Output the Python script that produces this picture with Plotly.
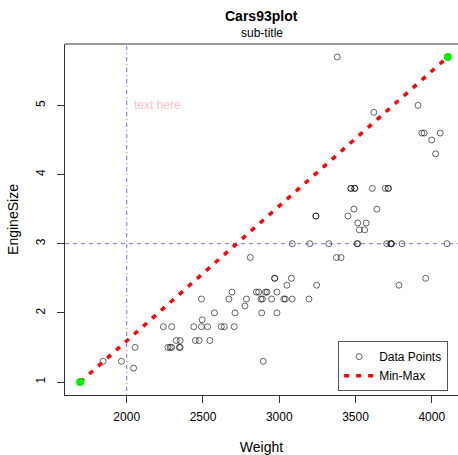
import plotly.graph_objects as go

weight = [2705, 3560, 3375, 3405, 3640, 2880, 3470, 4105, 3495, 3620, 3935, 2490, 2785, 3240,
          3195, 3715, 4025, 3910, 3380, 3515, 3085, 3570, 2270, 2670, 2970, 3705, 3080, 3805,
          2295, 3490, 1845, 2530, 2690, 2850, 2710, 3735, 3325, 3950, 1695, 2475, 2865, 2350,
          3040, 2345, 2620, 2285, 2885, 4000, 3510, 3515, 3695, 4055, 2325, 2440, 2970, 3735,
          2895, 2920, 3525, 2450, 3610, 2295, 3730, 2545, 3050, 4100, 3200, 2910, 2890, 3715,
          3470, 2640, 2350, 2575, 3240, 3450, 3495, 2775, 2495, 2045, 2490, 3085, 1965, 2055,
          2950, 3030, 3785, 2240, 3960, 2985, 2810, 2985, 3245]
engine = [1.8, 3.2, 2.8, 2.8, 3.5, 2.2, 3.8, 5.7, 3.8, 4.9, 4.6, 2.2, 2.2, 3.4,
          2.2, 3.8, 4.3, 5.0, 5.7, 3.3, 3.0, 3.3, 1.5, 2.2, 2.5, 3.0, 2.5, 3.0,
          1.8, 3.5, 1.3, 1.8, 2.3, 2.3, 2.0, 3.0, 3.0, 4.6, 1.0, 1.6, 2.3, 1.5,
          2.2, 1.5, 1.8, 1.5, 2.0, 4.5, 3.0, 3.0, 3.8, 4.6, 1.6, 1.8, 2.5, 3.0,
          1.3, 2.3, 3.2, 1.6, 3.8, 1.5, 3.0, 1.6, 2.4, 3.0, 3.0, 2.3, 2.2, 3.8,
          3.8, 1.8, 1.6, 2.0, 3.4, 3.4, 3.8, 2.1, 1.9, 1.2, 1.8, 2.2, 1.3, 1.5,
          2.2, 2.2, 2.4, 1.8, 2.5, 2.0, 2.8, 2.3, 2.4]

minmax_x = [1695, 4105]
minmax_y = [1.0, 5.7]
vline_x = 2000
hline_y = 3
x_ticks = [2000, 2500, 3000, 3500, 4000]
y_ticks = [1, 2, 3, 4, 5]

xr = [1595.4, 4172]
yr = [0.812, 5.888]

fig = go.Figure()
fig.add_trace(go.Scatter(x=weight, y=engine, mode="markers", name="Data Points",
                         marker=dict(symbol="circle-open", size=6, color="rgba(0,0,0,0.6)",
                                     line=dict(width=1, color="rgba(0,0,0,0.6)"))))
fig.add_trace(go.Scatter(x=minmax_x, y=minmax_y, mode="lines", name="Min-Max",
                         line=dict(color="red", width=3.5, dash="5px,7px")))
fig.add_trace(go.Scatter(x=minmax_x, y=minmax_y, mode="markers", showlegend=False,
                         marker=dict(symbol="circle", size=8, color="#00ee00",
                                     line=dict(width=0))))

fig.add_shape(type="line", x0=vline_x, x1=vline_x, y0=0, y1=1, xref="x", yref="paper",
              line=dict(color="rgba(60,60,255,0.75)", width=1, dash="1px,3px,4px,3px"))
fig.add_shape(type="line", x0=0, x1=1, y0=hline_y, y1=hline_y, xref="paper", yref="y",
              line=dict(color="rgba(60,60,255,0.75)", width=1, dash="4px,4px"))
# top frame line
fig.add_shape(type="line", x0=0, x1=1, y0=1, y1=1, xref="paper", yref="paper",
              line=dict(color="#9a9a9a", width=2))

fig.add_annotation(x=2200, y=5.0, text="text here", showarrow=False,
                   font=dict(color="pink", size=12, family="Liberation Sans"))
fig.add_annotation(x=0.5, y=1, xref="paper", yref="paper", yshift=38, text="<b>Cars93plot</b>",
                   showarrow=False, font=dict(size=14, family="Liberation Sans", color="black"))
fig.add_annotation(x=0.5, y=1, xref="paper", yref="paper", yshift=20, text="sub-title",
                   showarrow=False, font=dict(size=12, family="Liberation Sans", color="black"))

fig.update_layout(
    width=458, height=455,
    margin=dict(l=65, r=0, t=44, b=58),
    plot_bgcolor="white", paper_bgcolor="white",
    font=dict(family="Liberation Sans", size=12, color="black"),
    showlegend=True,
    legend=dict(x=0.975, xanchor="right", y=0.011, yanchor="bottom",
                bordercolor="#555", borderwidth=1, bgcolor="white",
                font=dict(size=12), tracegroupgap=0, itemwidth=30),
    xaxis=dict(range=xr, tickvals=x_ticks, ticks="outside", ticklen=7, tickcolor="#333",
               ticklabelstandoff=4,
               showline=True, linecolor="#333", linewidth=1, showgrid=False, zeroline=False,
               title=dict(text="Weight", standoff=21)),
    yaxis=dict(range=yr, tickvals=y_ticks, ticks="outside", ticklen=7, tickcolor="#333",
               tickangle=-90, ticklabelstandoff=7,
               showline=True, linecolor="#333", linewidth=1, showgrid=False, zeroline=False,
               title=dict(text="EngineSize", standoff=12)),
)

fig.write_html("out.html", config={"displayModeBar": False},
               post_script="document.body.style.margin='0';")
